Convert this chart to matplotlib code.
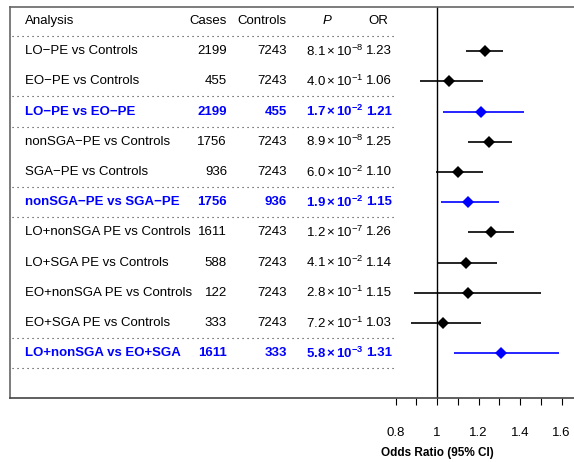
import matplotlib
matplotlib.use("Agg")
import matplotlib.pyplot as plt

plt.rcParams['font.family'] = ['Liberation Sans', 'DejaVu Sans']
plt.rcParams['mathtext.fontset'] = 'custom'
plt.rcParams['mathtext.rm'] = 'Liberation Sans'
plt.rcParams['mathtext.it'] = 'Liberation Sans:italic'
plt.rcParams['mathtext.bf'] = 'Liberation Sans:bold'

# data
analysis = ["LO\u2212PE vs Controls", "EO\u2212PE vs Controls", "LO\u2212PE vs EO\u2212PE",
            "nonSGA\u2212PE vs Controls", "SGA\u2212PE vs Controls", "nonSGA\u2212PE vs SGA\u2212PE",
            "LO+nonSGA PE vs Controls", "LO+SGA PE vs Controls", "EO+nonSGA PE vs Controls",
            "EO+SGA PE vs Controls", "LO+nonSGA vs EO+SGA"]
cases = [2199, 455, 2199, 1756, 936, 1756, 1611, 588, 122, 333, 1611]
controls = [7243, 7243, 455, 7243, 7243, 936, 7243, 7243, 7243, 7243, 333]
p_mant = ["8.1", "4.0", "1.7", "8.9", "6.0", "1.9", "1.2", "4.1", "2.8", "7.2", "5.8"]
p_exp = [-8, -1, -2, -8, -2, -2, -7, -2, -1, -1, -3]
odds = [1.23, 1.06, 1.21, 1.25, 1.10, 1.15, 1.26, 1.14, 1.15, 1.03, 1.31]
ci_low = [1.14, 0.92, 1.03, 1.15, 0.995, 1.02, 1.15, 1.00, 0.89, 0.875, 1.08]
ci_high = [1.32, 1.22, 1.42, 1.36, 1.22, 1.30, 1.37, 1.29, 1.50, 1.21, 1.59]
highlight = [False, False, True, False, False, True, False, False, False, False, True]
sep_rows = [0.5, 2.5, 3.5, 5.5, 6.5, 10.5, 11.5]
xticks = [0.8, 0.9, 1.0, 1.1, 1.2, 1.3, 1.4, 1.5, 1.6]
xticklabels = ["0.8", "", "1", "", "1.2", "", "1.4", "", "1.6"]

W, H = 574, 462
fig = plt.figure(figsize=(W / 100, H / 100), dpi=100)
ax = fig.add_axes([10 / W, (H - 398) / H, 570 / W, (398 - 7) / H])

# pixel -> data mapping: x=1 at 437px, 207.5 px per unit
def px(x):
    return (x - 437) / 207.5 + 1

ax.set_xlim(px(10), px(580))
ax.set_ylim((398 - 21) / 30.2, (7 - 21) / 30.2)

fs = 9.5
ax.text(px(25), 0, "Analysis", fontsize=fs, va='center', ha='left')
ax.text(px(227), 0, "Cases", fontsize=fs, va='center', ha='right')
ax.text(px(287), 0, "Controls", fontsize=fs, va='center', ha='right')
ax.text(px(327), 0, "P", fontsize=fs, va='center', ha='center', style='italic')
ax.text(px(368), 0, "OR", fontsize=fs, va='center', ha='left')

for i in range(len(analysis)):
    y = i + 1
    c = 'blue' if highlight[i] else 'black'
    w = 'bold' if highlight[i] else 'normal'
    ax.text(px(25), y, analysis[i], fontsize=fs, va='center', ha='left', color=c, weight=w)
    ax.text(px(227), y, str(cases[i]), fontsize=fs, va='center', ha='right', color=c, weight=w)
    ax.text(px(287), y, str(controls[i]), fontsize=fs, va='center', ha='right', color=c, weight=w)
    if highlight[i]:
        ptxt = r"$\mathbf{%s\times10^{%d}}$" % (p_mant[i], p_exp[i])
    else:
        ptxt = r"$\mathrm{%s\times10^{%d}}$" % (p_mant[i], p_exp[i])
    ax.text(px(306), y, ptxt, fontsize=fs, va='center', ha='left', color=c)
    ax.text(px(366), y, "%.2f" % odds[i], fontsize=fs, va='center', ha='left', color=c, weight=w)
    ax.plot([ci_low[i], ci_high[i]], [y, y], color=c, lw=1.2, solid_capstyle='butt')
    ax.plot(odds[i], y, marker='D', ms=6.3, color=c, mec=c, mew=0)

for s in sep_rows:
    ax.plot([px(12), px(395)], [s, s], color='#333333', lw=0.8, ls=(0, (1, 3.5)))

ax.axvline(1.0, color='black', lw=1)

ax.set_yticks([])
ax.set_xticks(xticks)
ax.set_xticklabels(xticklabels, fontsize=fs)
ax.tick_params(axis='x', direction='out', length=5, width=0.8, pad=16)
for sp in ax.spines.values():
    sp.set_color('#666666')
    sp.set_linewidth(1.2)
ax.spines['bottom'].set_color('#444444')
ax.spines['right'].set_visible(False)

fig.text(437 / W, 1 - 453 / H, "Odds Ratio (95% CI)", fontsize=8.5, weight='bold',
         ha='center', va='center')

fig.savefig("out.png", dpi=100)
